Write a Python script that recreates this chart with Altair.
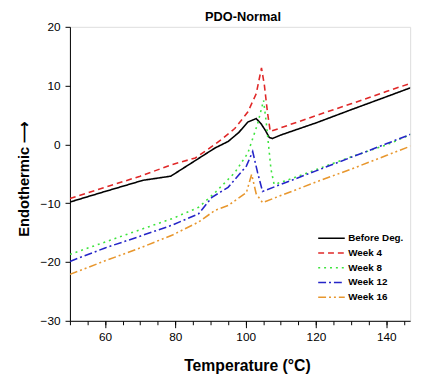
import altair as alt
import pandas as pd

series_names = ["Before Deg.", "Week 4", "Week 8", "Week 12", "Week 16"]
series_colors = ["#000000", "#e02828", "#3ee43e", "#2525c8", "#e8972e"]
series_dashes = [[1, 0], [6, 4], [2, 4], [8, 3, 2, 3], [8, 3, 2, 3, 2, 3]]

x_before = [50, 60, 70.8, 78.7, 85, 91.3, 95, 98, 100.6, 103, 104.4, 105.7, 106.7, 107.6, 110, 120.2, 130, 140, 149]
y_before = [-9.8, -8.0, -6.1, -5.4, -3.0, -0.6, 0.5, 2.0, 3.8, 4.4, 3.5, 2.3, 1.2, 1.0, 1.6, 3.7, 5.9, 8.1, 10.1]

x_w4 = [50, 60, 70, 79.2, 85.7, 90.4, 93, 96.9, 100.6, 103, 104.5, 105.3, 106.2, 107, 111.8, 120, 130, 140, 149]
y_w4 = [-9.2, -7.3, -5.4, -3.4, -2.3, -0.35, 0.8, 2.7, 5.5, 8.6, 13.0, 10.2, 5.5, 2.2, 3.2, 4.9, 6.9, 9.0, 10.8]

x_w8 = [50, 60, 70, 79.2, 86.6, 91.3, 96.9, 100.6, 103.4, 105.1, 105.9, 107.2, 108.1, 111.8, 120, 128.6, 140, 149]
y_w8 = [-18.7, -16.6, -14.5, -12.6, -10.7, -8.2, -4.8, -1.5, 3.5, 7.5, 3.5, -4.2, -6.8, -6.1, -4.3, -2.4, -0.1, 2.2]

x_w12 = [50, 60, 70, 79.2, 86.6, 90.4, 95, 100.2, 102, 103.4, 104.8, 110, 120, 130, 140, 149]
y_w12 = [-19.9, -17.6, -15.6, -13.7, -11.8, -9.0, -7.3, -3.7, -1.2, -4.8, -8.0, -6.8, -4.5, -2.2, 0.1, 2.2]

x_w16 = [50, 60, 70, 79.2, 86.6, 91.3, 95, 100.2, 101.7, 103, 104.8, 110, 120, 130, 140, 149]
y_w16 = [-22.1, -19.8, -17.6, -15.4, -13.2, -11.2, -10.4, -8.2, -5.1, -8.4, -9.9, -8.7, -6.4, -4.2, -1.9, 0.2]

major_x_ticks = [60, 80, 100, 120, 140]
minor_x_ticks = [50, 55, 60, 65, 70, 75, 80, 85, 90, 95, 100, 105, 110, 115, 120, 125, 130, 135, 140, 145]
y_ticks = [-30, -20, -10, 0, 10, 20]

xs = [x_before, x_w4, x_w8, x_w12, x_w16]
ys = [y_before, y_w4, y_w8, y_w12, y_w16]
rows = []
for name, xx, yy in zip(series_names, xs, ys):
    for i, (a, b) in enumerate(zip(xx, yy)):
        rows.append({"series": name, "T": a, "E": b, "order": i})
df = pd.DataFrame(rows)

FONT = "Liberation Sans"
x_scale = alt.Scale(domain=[50, 146.8], nice=False, zero=False)
y_scale = alt.Scale(domain=[-30, 20], nice=False, zero=False)

y_axis = alt.Axis(values=y_ticks, title="Endothermic ⟶", tickSize=5, labelPadding=5,
                  grid=False, domainColor="black", tickColor="black", labelColor="black",
                  labelFontSize=12, labelFont=FONT, titleFont=FONT, titleFontSize=15,
                  titleFontWeight="bold", titleX=-47, titleY=154, titleBaseline="middle",
                  titleColor="black")

legend_props = dict(title=None, orient="none", legendX=259, legendY=208, padding=0,
                    symbolType="M-2.25,0H2.25", symbolSize=144, symbolStrokeWidth=1.6,
                    labelFont=FONT, labelFontSize=10, labelFontWeight="bold",
                    labelColor="black", rowPadding=3, labelOffset=10)

lines = alt.Chart(df).mark_line(strokeWidth=1.6, clip=True).encode(
    x=alt.X("T:Q", scale=x_scale,
            axis=alt.Axis(values=major_x_ticks, title="Temperature (°C)", orient="bottom",
                          tickSize=7, labelPadding=4, grid=False, domainColor="black",
                          tickColor="black", labelColor="black", labelFontSize=12, labelFont=FONT,
                          titleFont=FONT, titleFontSize=16, titleFontWeight="bold",
                          titleX=180, titleY=46, titleBaseline="middle", titleColor="black")),
    y=alt.Y("E:Q", scale=y_scale, axis=y_axis),
    color=alt.Color("series:N", scale=alt.Scale(domain=series_names, range=series_colors),
                    legend=alt.Legend(**legend_props)),
    strokeDash=alt.StrokeDash("series:N", scale=alt.Scale(domain=series_names, range=series_dashes),
                              legend=alt.Legend(**legend_props)),
    order="order:Q",
)

minor = alt.Chart(df).mark_line(opacity=0).encode(
    x=alt.X("T:Q", scale=x_scale,
            axis=alt.Axis(values=minor_x_ticks, orient="bottom", title=None, labels=False,
                          domain=False, tickSize=4, tickColor="black", grid=False)),
    y=alt.Y("E:Q", scale=y_scale, axis=y_axis),
    detail="series:N",
)

chart = alt.layer(lines, minor).resolve_axis(x="independent").properties(
    width=346, height=299,
    title=alt.Title("PDO-Normal", font=FONT, fontSize=13, fontWeight="bold", color="black",
                    offset=-3, anchor="middle", frame="group", dx=3),
    padding={"left": 9, "top": 0, "right": 0, "bottom": 0},
).configure_view(stroke=None).configure(background="white")

chart.save("out.html", embed_options={"renderer": "svg", "actions": False})
